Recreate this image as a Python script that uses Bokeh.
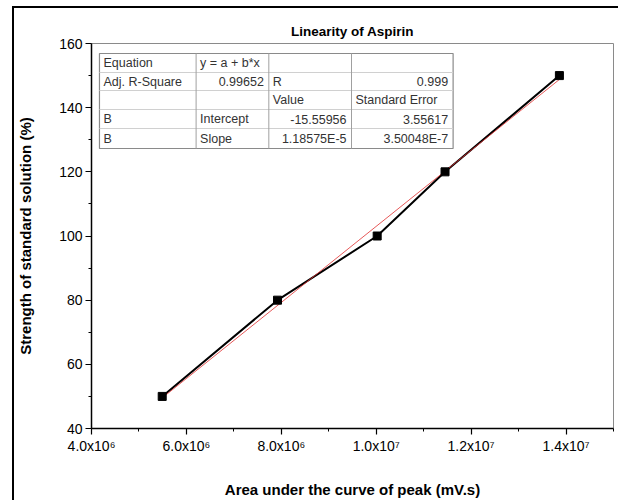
from bokeh.plotting import figure
from bokeh.embed import file_html
from bokeh.resources import INLINE
from bokeh.models import FixedTicker
from bokeh.core.properties import value

# ---- data ----
area = [5.49e6, 7.92e6, 1.002e7, 1.145e7, 1.386e7]
strength = [50, 80, 100, 120, 150]
intercept = -15.55956
slope = 1.18575e-5

x_ticks = [4e6, 6e6, 8e6, 1e7, 1.2e7, 1.4e7]
x_minor = [5e6, 7e6, 9e6, 1.1e7, 1.3e7, 1.5e7]
x_tick_labels = ["4.0x10\u2076", "6.0x10\u2076", "8.0x10\u2076",
                 "1.0x10\u2077", "1.2x10\u2077", "1.4x10\u2077"]
y_ticks = [40, 60, 80, 100, 120, 140, 160]
y_minor = [50, 70, 90, 110, 130, 150]

table_rows = [
    ["Equation", "y = a + b*x", "", ""],
    ["Adj. R-Square", "0.99652", "R", "0.999"],
    ["", "", "Value", "Standard Error"],
    ["B", "Intercept", "-15.55956", "3.55617"],
    ["B", "Slope", "1.18575E-5", "3.50048E-7"],
]

FONT = "Liberation Sans"
X0, X1 = 4e6, 1.5e7
Y0, Y1 = 40, 160
FW, FH = 524, 385

p = figure(width=606, height=494, output_backend="svg", toolbar_location=None,
           x_range=(X0, X1), y_range=(Y0, Y1),
           min_border_left=75, min_border_right=7, min_border_top=35,
           min_border_bottom=74)
p.styles = {"border-left": "2px solid black", "border-top": "2px solid black",
            "margin-left": "12px", "margin-top": "6px"}
p.grid.visible = False
p.outline_line_color = "#8a8a8a"
p.outline_line_width = 1

p.title.text = "Linearity of Aspirin"
p.title.align = "center"
p.title.text_font = FONT
p.title.text_font_size = "13.5px"
p.title.text_font_style = "bold"
p.title.text_color = "black"
p.title.standoff = 10

for ax in (p.xaxis[0], p.yaxis[0]):
    ax.axis_line_color = "black"
    ax.axis_line_width = 1.5
    ax.major_tick_line_color = "black"
    ax.minor_tick_line_color = "black"
    ax.major_tick_line_width = 1.2
    ax.minor_tick_line_width = 1
    ax.major_tick_in = 0
    ax.minor_tick_in = 0
    ax.major_tick_out = 6
    ax.minor_tick_out = 3
    ax.major_label_text_font = FONT
    ax.major_label_text_font_size = "14px"
    ax.major_label_text_color = "black"
    ax.axis_label_text_font = FONT
    ax.axis_label_text_font_size = "15px"
    ax.axis_label_text_font_style = "bold"
    ax.axis_label_text_color = "black"

p.xaxis.ticker = FixedTicker(ticks=x_ticks, minor_ticks=x_minor)
p.xaxis.major_label_overrides = {t: l for t, l in zip(x_ticks, x_tick_labels)}
p.xaxis.axis_label = "Area under the curve of peak (mV.s)"
p.xaxis.major_label_standoff = 3
p.xaxis.axis_label_standoff = 24

p.yaxis.ticker = FixedTicker(ticks=y_ticks, minor_ticks=y_minor)
p.yaxis.axis_label = "Strength of standard solution (%)"
p.yaxis.major_label_standoff = 3
p.yaxis.axis_label_standoff = 22

# ---- data marks ----
p.line(area, strength, line_color="black", line_width=2)
fit_x = [min(area), max(area)]
fit_y = [intercept + slope * v for v in fit_x]
p.line(fit_x, fit_y, line_color="#e03030", line_width=1, line_alpha=0.8)
p.scatter(area, strength, marker="square", size=8, fill_color="black",
          line_color="black")

# ---- statistics table (layout in frame pixels) ----
def dx(px):
    return X0 + px / FW * (X1 - X0)

def dy(py):
    return Y1 - py / FH * (Y1 - Y0)

col_px = [8, 105, 178, 261, 363]
row_px = [10, 29, 47, 66, 85, 105]

p.quad(left=[dx(col_px[0])], right=[dx(col_px[-1])], top=[dy(row_px[0])],
       bottom=[dy(row_px[-1])], fill_color="white", line_color="#8a8a8a",
       line_width=1.2)
p.segment(x0=[dx(col_px[0])] * 4, x1=[dx(col_px[-1])] * 4,
          y0=[dy(r) for r in row_px[1:-1]], y1=[dy(r) for r in row_px[1:-1]],
          line_color="#d0d0d0", line_width=1)
p.segment(x0=[dx(c) for c in col_px[1:-1]], x1=[dx(c) for c in col_px[1:-1]],
          y0=[dy(row_px[0])] * 3, y1=[dy(row_px[-1])] * 3,
          line_color="#a0a0a0", line_width=1)

def is_num(s):
    try:
        float(s)
        return True
    except ValueError:
        return False

tx, ty, tt, ta = [], [], [], []
for ri, row in enumerate(table_rows):
    yc = dy((row_px[ri] + row_px[ri + 1]) / 2)
    for ci, cell in enumerate(row):
        if not cell:
            continue
        if is_num(cell):
            tx.append(dx(col_px[ci + 1] - 5))
            ta.append("right")
        else:
            tx.append(dx(col_px[ci] + 4))
            ta.append("left")
        ty.append(yc)
        tt.append(cell)

p.text(x=tx, y=ty, text=tt, text_align=ta, text_baseline="middle",
       text_font=value(FONT), text_font_size="12.5px", text_color="#333333")

open("out.html", "w").write(file_html(p, INLINE))
